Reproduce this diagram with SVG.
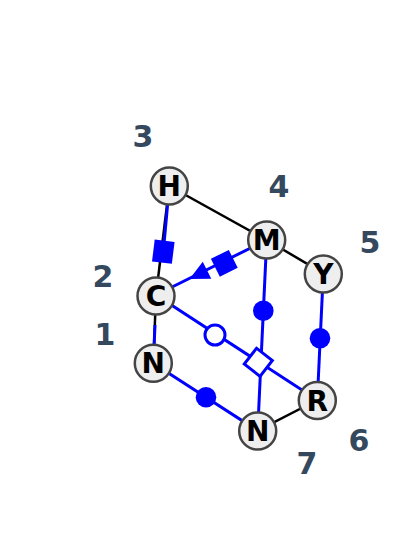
<svg xmlns="http://www.w3.org/2000/svg" width="400" height="542" viewBox="0 0 400 542">
<style>
.bk{stroke:#000;stroke-width:2.5;fill:none}
.bl{stroke:#0000ff;stroke-width:3;fill:none}
.fill{fill:#0000ff;stroke:none}
.open{fill:#fff;stroke:#0000ff;stroke-width:3}
.node circle{fill:#eeeeee;stroke:#444;stroke-width:2.5}
.node text{font-family:"DejaVu Sans",sans-serif;font-weight:bold;font-size:28px;fill:#000;text-anchor:middle}
.num{font-family:"DejaVu Sans",sans-serif;font-weight:bold;font-size:30px;fill:#34495e;text-anchor:middle}
</style>
<rect width="400" height="542" fill="#fff"/>
<g id="connectors">
<line class="bk" x1="169.3" y1="186" x2="156" y2="295"/>
<line class="bk" x1="156" y1="295" x2="153.3" y2="363.3"/>
<line class="bk" x1="169.3" y1="186" x2="266.7" y2="240"/>
<line class="bk" x1="266.7" y1="240" x2="323.3" y2="273.3"/>
<line class="bk" x1="257.7" y1="430.7" x2="317.3" y2="400"/>
<line class="bl" x1="169.3" y1="186" x2="163.3" y2="251.7"/>
<line class="bl" x1="155" y1="325" x2="153.3" y2="363.3"/>
<line class="bl" x1="266.7" y1="240" x2="156" y2="295"/>
<line class="bl" x1="266.7" y1="240" x2="257.7" y2="430.7"/>
<line class="bl" x1="323.3" y1="273.3" x2="317.3" y2="400"/>
<line class="bl" x1="156" y1="295" x2="317.3" y2="400"/>
<line class="bl" x1="153.3" y1="363.3" x2="257.7" y2="430.7"/>
<rect class="fill" x="-11" y="-10" width="22" height="20" transform="translate(163.3,251.7) rotate(97)"/>
<rect class="fill" x="-10" y="-10" width="20" height="20" transform="translate(224.3,263.3) rotate(153.6)"/>
<polygon class="fill" points="10,0 -9.5,-9.5 -9.5,9.5" transform="translate(198.5,274.5) rotate(153.6)"/>
<circle class="fill" cx="263.3" cy="310.7" r="10.3"/>
<circle class="fill" cx="320" cy="338.3" r="10.3"/>
<circle class="fill" cx="206" cy="397.3" r="10.3"/>
<circle class="open" cx="215" cy="335" r="10"/>
<rect class="open" x="-10" y="-10" width="20" height="20" transform="translate(258.3,362.3) rotate(38)"/>
</g>
<g id="node-H" class="node"><circle cx="169.3" cy="186" r="18.5"/><text x="169.3" y="196">H</text></g>
<g id="node-M" class="node"><circle cx="266.7" cy="240" r="18.5"/><text x="266.7" y="250">M</text></g>
<g id="node-Y" class="node"><circle cx="323.3" cy="274" r="18.5"/><text x="323.3" y="284">Y</text></g>
<g id="node-C" class="node"><circle cx="156" cy="296" r="18.5"/><text x="156" y="306">C</text></g>
<g id="node-N1" class="node"><circle cx="153.3" cy="363.3" r="18.5"/><text x="153.3" y="373.3">N</text></g>
<g id="node-N2" class="node"><circle cx="257.7" cy="431" r="18.5"/><text x="257.7" y="441">N</text></g>
<g id="node-R" class="node"><circle cx="317.3" cy="400.5" r="18.5"/><text x="317.3" y="410.5">R</text></g>
<g id="labels">
<text class="num" x="143" y="147">3</text>
<text class="num" x="279" y="197">4</text>
<text class="num" x="370" y="253">5</text>
<text class="num" x="103" y="287">2</text>
<text class="num" x="105" y="345">1</text>
<text class="num" x="359" y="451">6</text>
<text class="num" x="307" y="474">7</text>
</g>
</svg>
